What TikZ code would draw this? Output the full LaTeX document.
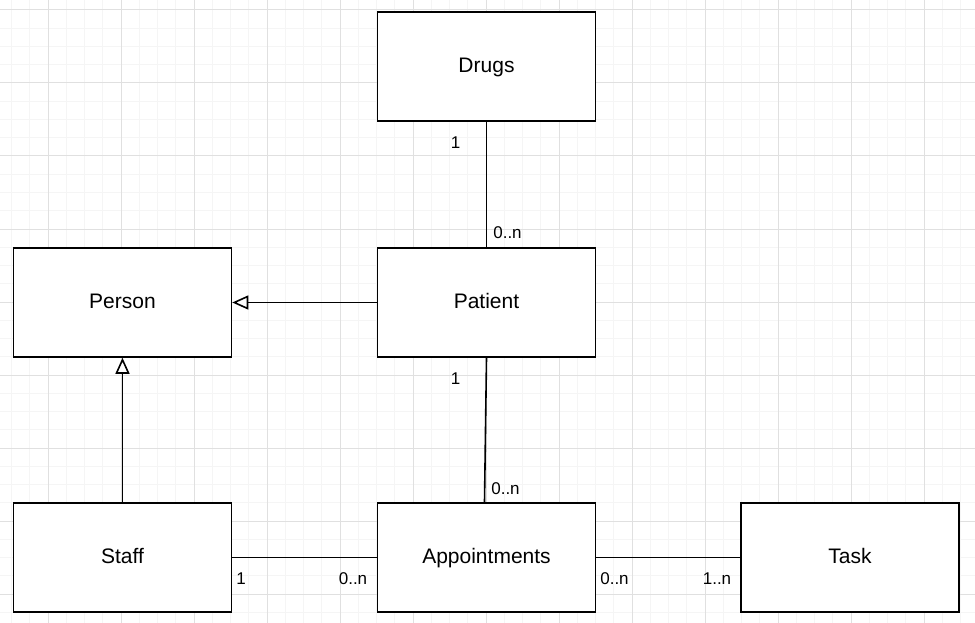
\documentclass[tikz,border=0pt]{standalone}
\usepackage{fontspec}
\setmainfont{Liberation Sans}
\usepackage{tikz}
\usetikzlibrary{arrows.meta}
\definecolor{gridmajor}{RGB}{224, 224, 224}
\definecolor{gridminor}{RGB}{245, 245, 245}

\begin{document}
\begin{tikzpicture}[x=1pt, y=-1pt, line width=1.6pt,
  entity/.style={draw, fill=white, minimum width=218pt, minimum height=109pt,
    text height=15pt, text depth=3pt, font=\fontsize{21}{25}\selectfont},
  mult/.style={inner sep=0pt, font=\fontsize{17}{20}\selectfont},
  inherit/.style={-{Triangle[fill=white, length=16pt, width=14pt]}}
]
  \useasboundingbox (0, 0) rectangle (975, 623);
  \fill[white] (0, 0) rectangle (975, 623);

  % background grid
  \foreach \i in {0,...,53}
    \draw[gridminor, line width=1pt] ({11.5 + 18.25*\i}, 0) -- +(0, 623);
  \foreach \i in {0,...,33}
    \draw[gridminor, line width=1pt] (0, {10 + 18.25*\i}) -- +(975, 0);
  \foreach \i in {0,...,12}
    \draw[gridmajor, line width=1pt] ({48 + 73*\i}, 0) -- +(0, 623);
  \foreach \i in {0,...,8}
    \draw[gridmajor, line width=1pt] (0, {10 + 73*\i}) -- +(975, 0);

  \node[entity] (drugs) at (486.5, 66.5) {Drugs};
  \node[entity] (person) at (122.5, 302.5) {Person};
  \node[entity] (patient) at (486.5, 302.5) {Patient};
  \node[entity] (staff) at (122.5, 557.5) {Staff};
  \node[entity] (appointments) at (486.5, 557.5) {Appointments};
  \node[entity] (task) at (850, 557.5) {Task};

  \draw[inherit] (patient) -- (person);
  \draw[inherit] (staff) -- (person);
  \draw (drugs) -- (patient);
  \draw (patient.south) -- ([xshift=-2pt]appointments.north);
  \draw (staff) -- (appointments);
  \draw (appointments) -- (task);

  \node[mult] (drugsone) at (455.5, 143) {1};
  \node[mult] (drugsmany) at (507.5, 233) {0..n};
  \node[mult] (patientone) at (455.5, 379) {1};
  \node[mult] (patientmany) at (505.5, 488.5) {0..n};
  \node[mult] (staffone) at (241, 578.5) {1};
  \node[mult] (staffmany) at (353, 578.5) {0..n};
  \node[mult] (taskmany) at (614.5, 578.5) {0..n};
  \node[mult] (taskone) at (717, 578.5) {1..n};

\end{tikzpicture}
\end{document}
